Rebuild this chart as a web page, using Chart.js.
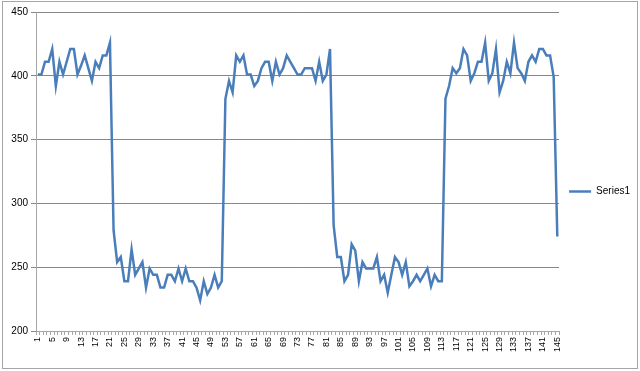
<!DOCTYPE html>
<html>
<head>
<meta charset="utf-8">
<script src="https://cdn.jsdelivr.net/npm/chart.js@4.4.1/dist/chart.umd.min.js"></script>
<style>
  html, body { margin: 0; padding: 0; background: #fff; }
</style>
</head>
<body>
<canvas id="chart-1" width="640" height="371"></canvas>
<script>
// categories 1..145
const categories = Array.from({ length: 145 }, (_, i) => String(i + 1));
const tickLabels = ['1', '5', '9', '13', '17', '21', '25', '29', '33', '37', '41', '45', '49', '53', '57', '61',
  '65', '69', '73', '77', '81', '85', '89', '93', '97', '101', '105', '109', '113', '117', '121', '125', '129',
  '133', '137', '141', '145'];
const yTicks = [200, 250, 300, 350, 400, 450];

const series1 = [
  401, 401, 411, 411, 421, 392, 411, 401, 411, 421, 421, 401, 408, 416, 406, 396, 411, 406, 416, 416, 426,
  279, 254, 258, 239, 239, 264, 244, 249, 254, 234, 249, 244, 244, 234, 234, 244, 244, 239, 249, 239, 249,
  239, 239, 234, 224, 239, 229, 234, 244, 234, 239,
  382, 396, 387, 416, 411, 416, 401, 401, 392, 396, 406, 411, 411, 396, 411, 401, 406, 416, 411, 406, 401,
  401, 406, 406, 406, 396, 411, 396, 401, 421,
  283, 258, 258, 239, 244, 268, 263, 239, 254, 249, 249, 249, 258, 239, 244, 230, 244, 258, 254, 244, 254,
  235, 239, 244, 239, 244, 249, 235, 244, 239, 239,
  382, 392, 406, 402, 406, 421, 416, 396, 402, 411, 411, 426, 396, 402, 421, 387, 396, 411, 402, 426, 406,
  402, 396, 411, 416, 411, 421, 421, 416, 416, 399, 274
];

const frame = {
  id: 'frame',
  beforeDraw(chart) {
    const c = chart.ctx;
    c.save();
    c.fillStyle = '#fff';
    c.fillRect(0, 0, chart.width, chart.height);
    c.strokeStyle = '#a6a6a6';
    c.lineWidth = 1;
    c.strokeRect(2.5, 1.5, 635, 367);
    c.restore();
  }
};

Chart.defaults.font.family = '"Liberation Sans", Arial, sans-serif';
Chart.defaults.color = '#000';

const ctx = document.getElementById('chart-1');

new Chart(ctx, {
  type: 'line',
  data: {
    labels: categories,
    datasets: [{
      label: 'Series1',
      data: series1,
      borderColor: '#4a7ebb',
      backgroundColor: '#4a7ebb',
      borderWidth: 2.5,
      pointRadius: 0,
      tension: 0
    }]
  },
  options: {
    responsive: false,
    animation: false,
    layout: { padding: { left: 3, top: 12, right: 0, bottom: 0 } },
    plugins: {
      tooltip: { enabled: false },
      legend: {
        position: 'right',
        labels: {
          usePointStyle: true,
          pointStyle: 'line',
          pointStyleWidth: 22,
          font: { size: 10 },
          padding: 10
        }
      }
    },
    scales: {
      x: {
        offset: true,
        grid: {
          offset: true,
          drawOnChartArea: false,
          drawTicks: true,
          tickLength: 4,
          color: '#a6a6a6'
        },
        border: { color: '#a6a6a6' },
        ticks: {
          autoSkip: false,
          maxRotation: 90,
          minRotation: 90,
          padding: 2,
          font: { size: 9 },
          callback: function (value) {
            const lab = this.getLabelForValue(value);
            return tickLabels.includes(lab) ? lab : '';
          }
        },
        afterFit: (scale) => { scale.height = 40; }
      },
      y: {
        min: 200,
        max: 450,
        afterBuildTicks: (scale) => { scale.ticks = yTicks.map(v => ({ value: v })); },
        grid: { color: '#878787', tickLength: 5 },
        border: { color: '#a6a6a6' },
        ticks: { padding: 3, font: { size: 10 } },
        afterFit: (scale) => { scale.width = 33; }
      }
    }
  },
  plugins: [frame]
});
</script>
</body>
</html>
